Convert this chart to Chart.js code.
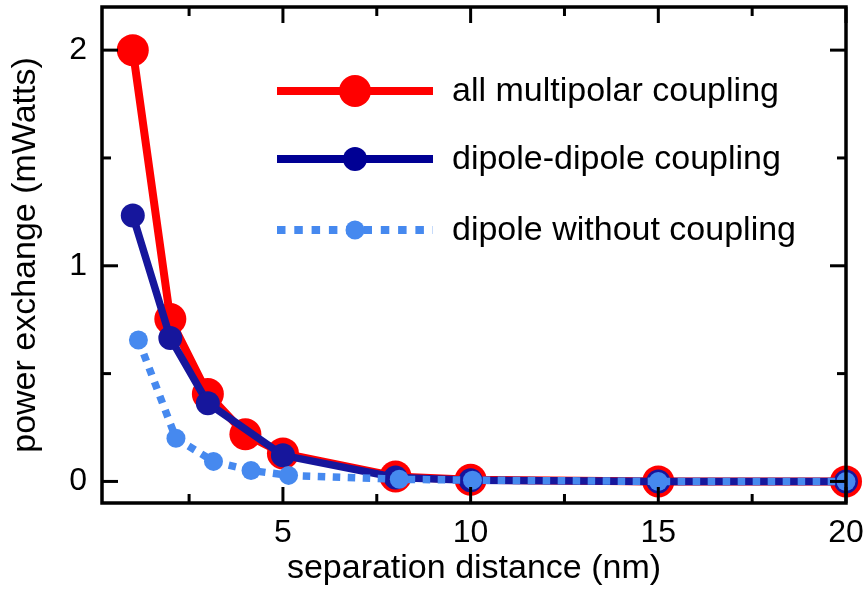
<!DOCTYPE html>
<html>
<head>
<meta charset="utf-8">
<script src="https://cdn.jsdelivr.net/npm/chart.js@4.4.1/dist/chart.umd.min.js"></script>
<style>
  html, body { margin: 0; padding: 0; background: #ffffff; }
  #wrap { width: 865px; height: 589px; position: relative; }
</style>
</head>
<body>
<div id="wrap"><canvas id="c" width="865" height="589"></canvas></div>
<script>
// ---- data ----
const seriesNames = ['all multipolar coupling', 'dipole-dipole coupling', 'dipole without coupling'];
const xMultipolar = [1, 2, 3, 4, 5, 8, 10, 15, 20];
const yMultipolar = [2.0, 0.753, 0.405, 0.219, 0.13, 0.023, 0.008, 0, 0];
const xDipoleDipole = [1, 2, 3, 5, 8, 10, 15, 20];
const yDipoleDipole = [1.233, 0.665, 0.363, 0.121, 0.018, 0.006, 0, 0];
const xNoCoupling = [1.15, 2.15, 3.15, 4.15, 5.15, 8.1, 10.05, 15, 20];
const yNoCoupling = [0.656, 0.2, 0.093, 0.051, 0.028, 0.01, 0.006, 0, 0];
const xTickValues = [5, 10, 15, 20];
const xMinorTickValues = [2.5, 7.5, 12.5, 17.5];
const yTickValues = [0, 1, 2];
const yMinorTickValues = [0.5, 1.5];
const xTitle = 'separation distance (nm)';
const yTitle = 'power exchange (mWatts)';

const FONT = "'Liberation Sans', Arial, Helvetica, sans-serif";
const RED = '#ff0000', NAVY = '#16169c', NAVY_LEG = '#000094', SKY = '#4689ef';

function pts(xs, ys) { return xs.map((x, i) => ({ x: x, y: ys[i] })); }
function noPad(s) { s.paddingLeft = 0; s.paddingRight = 0; s.paddingTop = 0; s.paddingBottom = 0; }

const frameTicks = {
  id: 'frameTicks',
  afterDatasetsDraw(chart) {
    const { ctx, chartArea: a, scales } = chart;
    const xs = scales.x, ys = scales.y;
    ctx.save();
    ctx.strokeStyle = '#000';
    ctx.lineWidth = 3;
    ctx.lineCap = 'butt';
    const major = 16, minor = 9;
    const tickX = (vals, len) => vals.forEach(v => {
      const p = xs.getPixelForValue(v);
      ctx.beginPath(); ctx.moveTo(p, a.bottom); ctx.lineTo(p, a.bottom - len); ctx.stroke();
      ctx.beginPath(); ctx.moveTo(p, a.top); ctx.lineTo(p, a.top + len); ctx.stroke();
    });
    const tickY = (vals, len) => vals.forEach(v => {
      const p = ys.getPixelForValue(v);
      ctx.beginPath(); ctx.moveTo(a.left, p); ctx.lineTo(a.left + len, p); ctx.stroke();
      ctx.beginPath(); ctx.moveTo(a.right, p); ctx.lineTo(a.right - len, p); ctx.stroke();
    });
    tickX(xTickValues, major); tickX(xMinorTickValues, minor);
    tickY(yTickValues, major); tickY(yMinorTickValues, minor);
    ctx.lineWidth = 3.5;
    ctx.strokeRect(a.left, a.top, a.right - a.left, a.bottom - a.top);
    ctx.restore();
  }
};

const insideLegend = {
  id: 'insideLegend',
  afterDraw(chart) {
    const { ctx, chartArea: a } = chart;
    const x0 = a.left + 175, x1 = a.left + 331, xm = a.left + 253, xt = a.left + 350;
    const rows = [a.top + 84, a.top + 152, a.top + 223];
    const styles = [
      { c: RED, w: 8, dash: [], r: 16 },
      { c: NAVY_LEG, w: 8, dash: [], r: 12 },
      { c: SKY, w: 8, dash: [8.5, 8.8], r: 9.5 }
    ];
    ctx.save();
    rows.forEach((y, i) => {
      const s = styles[i];
      ctx.strokeStyle = s.c; ctx.lineWidth = s.w; ctx.setLineDash(s.dash); ctx.lineCap = 'butt';
      ctx.beginPath(); ctx.moveTo(x0, y); ctx.lineTo(x1, y); ctx.stroke();
      ctx.setLineDash([]);
      ctx.fillStyle = s.c;
      ctx.beginPath(); ctx.arc(xm, y, s.r, 0, Math.PI * 2); ctx.fill();
      ctx.fillStyle = '#000';
      ctx.font = '34px ' + FONT;
      ctx.textBaseline = 'middle';
      ctx.textAlign = 'left';
      ctx.fillText(seriesNames[i], xt, y + 1);
    });
    ctx.restore();
  }
};

new Chart(document.getElementById('c'), {
  type: 'scatter',
  data: {
    datasets: [
      {
        label: seriesNames[0], data: pts(xMultipolar, yMultipolar), showLine: true,
        borderColor: RED, backgroundColor: RED, borderWidth: 8,
        pointRadius: 16, pointHoverRadius: 16, pointBorderWidth: 0, order: 3, clip: false
      },
      {
        label: seriesNames[1], data: pts(xDipoleDipole, yDipoleDipole), showLine: true,
        borderColor: NAVY, backgroundColor: NAVY, borderWidth: 7.5,
        pointRadius: 12, pointHoverRadius: 12, pointBorderWidth: 0, order: 2, clip: false
      },
      {
        label: seriesNames[2], data: pts(xNoCoupling, yNoCoupling), showLine: true,
        borderColor: SKY, backgroundColor: SKY, borderWidth: 7.5, borderDash: [7.5, 7.5],
        pointRadius: 9.5, pointHoverRadius: 9.5, pointBorderWidth: 0, order: 1, clip: false
      }
    ]
  },
  options: {
    responsive: false,
    animation: false,
    events: [],
    layout: { autoPadding: false, padding: { top: 7, right: 19, left: 0, bottom: 0 } },
    plugins: { legend: { display: false }, tooltip: { enabled: false } },
    scales: {
      x: {
        type: 'linear', min: 0.18, max: 20,
        afterBuildTicks(s) { s.ticks = xTickValues.map(v => ({ value: v })); },
        afterFit(s) { s.height = 86; noPad(s); },
        grid: { display: false, drawTicks: false },
        border: { display: false },
        ticks: { color: '#000', font: { family: FONT, size: 32 }, padding: 11, maxRotation: 0, autoSkip: false },
        title: { display: true, text: xTitle, color: '#000', font: { family: FONT, size: 34 }, padding: { top: 0, bottom: 0 } }
      },
      y: {
        type: 'linear', min: -0.1, max: 2.2,
        afterBuildTicks(s) { s.ticks = yTickValues.map(v => ({ value: v })); },
        afterFit(s) { s.width = 102; noPad(s); },
        grid: { display: false, drawTicks: false },
        border: { display: false },
        ticks: { color: '#000', font: { family: FONT, size: 32 }, padding: 15, autoSkip: false },
        title: { display: true, text: yTitle, color: '#000', font: { family: FONT, size: 34 }, padding: { top: 5, bottom: 0 } }
      }
    }
  },
  plugins: [frameTicks, insideLegend]
});
</script>
</body>
</html>
